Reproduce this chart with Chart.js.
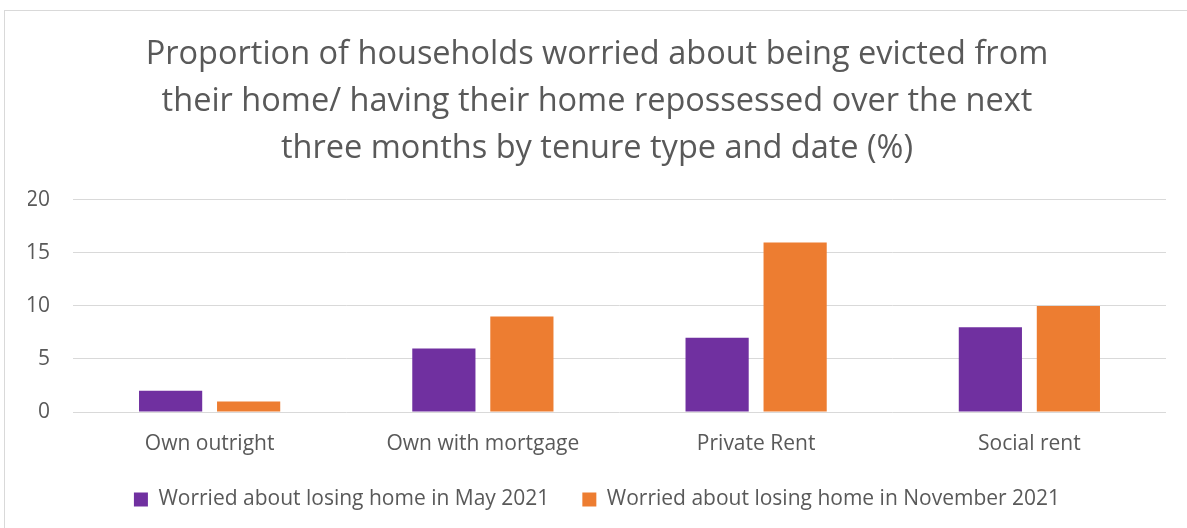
<!DOCTYPE html>
<html>
<head>
<meta charset="utf-8">
<script src="https://cdn.jsdelivr.net/npm/chart.js@4"></script>
<style>
  html, body { margin: 0; padding: 0; background: #fff; overflow: hidden; }
  #frame {
    position: absolute; left: 4px; top: 10px;
    width: 1220px; height: 540px;
    border: 1px solid #d9d9d9;
  }
  #wrap { position: absolute; left: 0; top: 0; width: 1187px; height: 528px; }
</style>
</head>
<body>
<div id="frame"></div>
<div id="wrap"><canvas id="chart"></canvas></div>
<script>
const categories = ["Own outright", "Own with mortgage", "Private Rent", "Social rent"];
const may2021 = [2, 6, 7, 8];
const nov2021 = [1, 9, 16, 10];
const seriesLabels = [
  "Worried about losing home in May 2021",
  "Worried about losing home in November 2021"
];
const titleLines = [
  "Proportion of households worried about being evicted from",
  "their home/ having their home repossessed over the next",
  "three months by tenure type and date (%)"
];

const textGrey = "#595959";
const fontFamily = "'Open Sans', sans-serif";

const ctx = document.getElementById("chart").getContext("2d");

new Chart(ctx, {
  type: "bar",
  data: {
    labels: categories,
    datasets: [
      {
        label: seriesLabels[0],
        data: may2021,
        backgroundColor: "#7030A0",
        categoryPercentage: 0.571,
        barPercentage: 0.81,
      },
      {
        label: seriesLabels[1],
        data: nov2021,
        backgroundColor: "#ED7D31",
        categoryPercentage: 0.571,
        barPercentage: 0.81,
      },
    ],
  },
  options: {
    responsive: true,
    maintainAspectRatio: false,
    animation: false,
    layout: {
      padding: { left: 28, right: 21, top: 31, bottom: 8 },
    },
    plugins: {
      title: {
        display: true,
        text: titleLines,
        color: textGrey,
        font: { family: fontFamily, size: 32.5, weight: "normal", lineHeight: 1.446 },
        padding: { top: 0, bottom: 28 },
      },
      legend: {
        position: "bottom",
        labels: {
          color: textGrey,
          font: { family: fontFamily, size: 21 },
          boxWidth: 14,
          boxHeight: 14,
          padding: 33,
        },
      },
      tooltip: { enabled: false },
    },
    scales: {
      x: {
        grid: { display: false },
        border: { display: false },
        ticks: {
          color: textGrey,
          font: { family: fontFamily, size: 21 },
          padding: 11,
          maxRotation: 0,
        },
        // keep the axis band tight so the plot reaches down like the original
        afterFit: (scale) => { scale.height = 44; },
      },
      y: {
        min: 0,
        max: 20,
        ticks: {
          stepSize: 5,
          color: textGrey,
          font: { family: fontFamily, size: 21 },
          padding: 23,
        },
        grid: { color: "#d9d9d9", lineWidth: 1, drawTicks: false },
        border: { display: false },
        afterFit: (scale) => { scale.width = 45; },
      },
    },
  },
});
</script>
</body>
</html>
